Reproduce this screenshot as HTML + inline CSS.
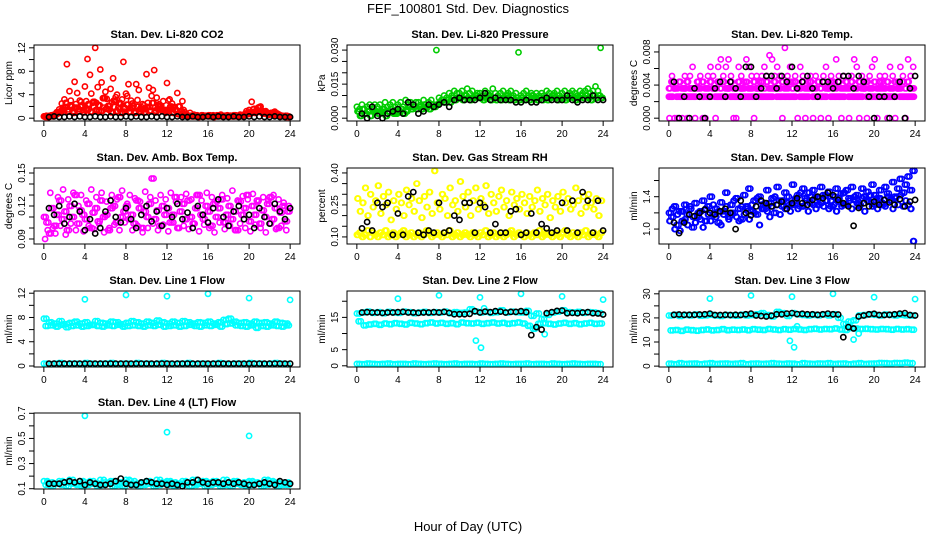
<!DOCTYPE html>
<html><head><meta charset="utf-8"><style>
html,body{margin:0;padding:0;background:#fff;}
svg{display:block;font-family:"Liberation Sans",sans-serif;}
</style></head><body>
<svg id="chart" width="936" height="540" viewBox="0 0 936 540" xmlns="http://www.w3.org/2000/svg">
<rect width="936" height="540" fill="#fff"/>
<text x="468" y="13" text-anchor="middle" font-size="13">FEF_100801  Std. Dev. Diagnostics</text>
<text x="468" y="531" text-anchor="middle" font-size="13">Hour of Day (UTC)</text>
</svg>
<script>
// ---- data ----
const xTicks=[0,4,8,12,16,20,24];
// Panel 1: CO2
const co2RedA=[0.3,0.4,0.2,0.5,0.6,1.0,1.5,2.5,3.2,9.2,4.6,2.0,6.2,4.3,3.0,2.2,5.4,10.1,7.4,2.6,12.0,5.3,8.3,3.4,4.5,2.1,5.0,6.8,3.6,1.8,2.4,9.6,4.2,5.8,3.0,2.1,5.8,4.8,1.9,2.2,7.5,5.2,3.8,8.2,3.5,2.4,1.6,1.2,6.0,3.2,2.5,1.9,4.3,2.0,2.9,1.0,0.5,0.9,0.4,0.3,0.4,0.3,0.5,0.4,0.4,0.3,0.5,0.3,0.4,0.6,0.3,0.4,0.3,0.4,0.5,0.3,0.4,0.5,0.6,1.2,1.4,2.8,1.6,1.1,1.9,1.3,0.8,0.9,0.7,0.6,1.1,0.8,0.5,0.4,0.3,0.3];
const co2RedB=[0.2,0.3,0.3,0.4,0.5,0.8,1.2,1.8,2.6,1.5,3.0,1.2,2.4,1.6,2.8,1.4,2.9,1.5,4.2,1.9,2.6,1.2,6.1,1.8,3.3,1.4,2.7,1.9,4.0,1.5,3.2,1.1,3.8,1.7,2.5,1.2,3.1,1.6,2.4,1.5,2.6,1.9,4.8,1.3,2.2,1.6,2.9,0.9,3.0,1.5,1.8,1.2,2.0,0.8,1.4,0.6,0.4,0.3,0.6,0.3,0.2,0.5,0.3,0.4,0.3,0.4,0.2,0.5,0.3,0.4,0.3,0.5,0.4,0.3,0.3,0.4,0.6,0.4,0.8,0.9,1.0,1.5,1.2,1.8,2.0,1.0,1.2,0.7,0.9,1.0,0.6,0.5,0.4,0.3,0.2,0.3];
const co2RedC=[0.3,0.2,0.4,0.3,0.6,0.9,1.0,1.4,1.9,1.1,2.2,0.9,1.8,1.2,2.0,1.0,1.5,2.4,1.1,2.8,1.4,2.2,1.2,3.4,1.6,2.1,1.0,3.0,1.2,2.6,0.9,1.7,2.3,1.1,1.8,0.9,2.0,1.2,1.5,1.0,1.9,1.3,2.6,1.0,1.6,2.1,1.2,1.4,1.2,2.0,0.9,1.4,0.7,1.2,0.5,0.6,0.3,0.4,0.3,0.5,0.3,0.4,0.3,0.4,0.5,0.3,0.4,0.3,0.5,0.3,0.4,0.3,0.4,0.3,0.5,0.4,0.3,0.5,0.6,0.7,0.8,1.0,0.9,1.3,1.1,0.8,1.0,0.6,0.7,0.8,0.5,0.6,0.4,0.3,0.4,0.2];
const co2Black=[0.2,0.3,0.2,0.2,0.3,0.2,0.3,0.2,0.2,0.3,0.2,0.2,0.3,0.2,0.2,0.3,0.2,0.3,0.2,0.2,0.3,0.2,0.3,0.2,0.2,0.3,0.2,0.2,0.3,0.2,0.2,0.3,0.2,0.3,0.2,0.2,0.3,0.2,0.2,0.3,0.2,0.3,0.2,0.2,0.3,0.2,0.2,0.2];
// Panel 2: pressure
const presA=[.005,.004,.006,.004,.005,.006,.004,.006,.005,.006,.004,.007,.005,.006,.007,.005,.006,.007,.005,.008,.006,.007,.005,.007,.007,.006,.008,.006,.007,.008,.006,.030,.009,.008,.010,.009,.011,.010,.012,.011,.011,.012,.010,.013,.011,.012,.010,.011,.011,.010,.012,.011,.010,.013,.011,.010,.011,.012,.010,.011,.012,.010,.011,.029,.010,.011,.012,.010,.011,.009,.011,.010,.011,.010,.012,.011,.010,.011,.012,.010,.011,.012,.010,.011,.012,.011,.010,.012,.011,.012,.013,.011,.012,.014,.012,.031];
const presB=[.003,.001,.004,.002,.003,.001,.004,.003,.002,.003,.004,.001,.003,.004,.002,.002,.003,.004,.002,.003,.005,.004,.005,.004,.005,.004,.006,.005,.004,.006,.005,.006,.007,.008,.007,.008,.007,.009,.008,.009,.009,.008,.010,.009,.008,.009,.010,.009,.009,.008,.009,.010,.008,.009,.008,.009,.008,.009,.010,.008,.009,.008,.009,.008,.009,.008,.009,.008,.010,.009,.008,.009,.008,.009,.008,.009,.010,.009,.008,.009,.009,.008,.009,.010,.009,.008,.009,.010,.009,.010,.009,.008,.010,.009,.010,.009];
const presBlack=[.002,.000,.005,.001,.000,.002,.003,.004,.002,.007,.006,.002,.003,.006,.005,.006,.007,.005,.008,.009,.008,.008,.008,.009,.011,.008,.009,.008,.008,.008,.007,.007,.008,.007,.007,.008,.009,.008,.008,.008,.010,.008,.007,.008,.008,.010,.008,.008];
// Panel 3: temperature
const tempA=[.0026,.0026,.0036,.0026,.0026,.0026,.0036,.0026,.0026,.0026,.0026,.0036,.0026,.0026,.0026,.0026,.0026,.0036,.0026,.0026,.0026,.0026,.0026,.0036,.0026,.0026,.0026,.0026,.0036,.0026,.0026,.0026,.0026,.0026,.0036,.0026,.0026,.0026,.0026,.0026,.0026,.0036,.0026,.0026,.0026,.0026,.0026,.0026,.0026,.0026,.0036,.0026,.0026,.0026,.0026,.0036,.0026,.0026,.0026,.0026,.0026,.0026,.0036,.0026,.0026,.0026,.0026,.0026,.0026,.0036,.0026,.0026,.0026,.0026,.0026,.0026,.0036,.0026,.0026,.0026,.0026,.0026,.0036,.0026,.0026,.0026,.0026,.0026,.0026,.0036,.0026,.0026,.0026,.0026,.0026,.0026];
const tempB=[.0036,.0044,.0036,.0036,.0044,.0036,.0036,.0044,.0036,.0036,.0036,.0044,.0036,.0044,.0036,.0036,.0044,.0036,.0036,.0044,.0036,.0044,.0036,.0036,.0044,.0036,.0036,.0044,.0036,.0036,.0044,.0036,.0036,.0044,.0036,.0036,.0044,.0036,.0044,.0036,.0036,.0044,.0036,.0036,.0044,.0036,.0036,.0044,.0036,.0044,.0036,.0036,.0044,.0036,.0036,.0044,.0036,.0036,.0044,.0036,.0044,.0036,.0036,.0044,.0036,.0036,.0044,.0036,.0036,.0044,.0036,.0044,.0036,.0036,.0044,.0036,.0036,.0044,.0036,.0036,.0044,.0036,.0044,.0036,.0036,.0044,.0036,.0036,.0044,.0036,.0036,.0044,.0036,.0044,.0036,.0036];
const tempC=[0,.0051,0,0,.0044,0,.0051,0,.0051,.0062,0,.0044,.0051,0,0,.0051,.0062,.0051,0,.0062,.0071,.0051,.0062,.0071,.0051,0,0,.0062,.0051,.0044,.0071,.0062,.0051,0,.0051,.0044,.0051,.0062,.0051,.0076,.0071,.0051,.0062,.0051,0,.0085,.0051,.0062,.0044,.0051,0,.0062,.0051,0,.0044,.0051,0,.0051,.0044,0,.0051,.0062,0,.0051,.0044,.0071,.0051,0,.0051,.0044,0,.0051,.0071,.0062,0,.0051,.0044,0,.0051,.0062,.0071,0,.0051,.0044,.0051,0,.0062,.0051,0,.0044,.0062,.0051,0,.0071,.0051,.0062];
const tempBlack=[.0044,0,.0026,0,.0036,.0026,0,.0026,.0036,.0044,.0026,.0044,.0036,.0026,.0062,.0062,.0026,.0036,.0051,.0051,.0036,.0051,.0044,.0062,.0036,.0044,.0051,.0036,.0026,.0044,.0044,.0036,.0044,.0051,.0051,.0036,.0051,.0044,.0026,0,.0026,.0026,0,.0026,.0044,0,.0036,.0051];
// Panel 4: ambient box temp
const ambA=[.110,.105,.095,.118,.102,.112,.125,.108,.115,.098,.120,.110,.130,.104,.116,.112,.108,.122,.100,.114,.118,.106,.125,.110,.112,.098,.118,.120,.105,.128,.110,.115,.120,.108,.112,.104,.125,.118,.100,.115,.110,.122,.145,.108,.116,.102,.120,.112,.118,.105,.112,.128,.100,.115,.122,.108,.125,.110,.104,.118,.130,.112,.108,.120,.115,.102,.122,.110,.118,.126,.105,.112,.120,.108,.115,.098,.124,.112,.118,.130,.106,.120,.112,.125,.104,.116,.110,.122,.128,.108,.118,.100,.114,.120,.106,.115];
const ambB=[.090,.098,.132,.100,.095,.128,.102,.135,.094,.126,.104,.132,.098,.120,.130,.097,.125,.102,.135,.099,.128,.104,.132,.096,.124,.100,.130,.103,.126,.098,.134,.105,.122,.130,.098,.127,.102,.124,.096,.133,.100,.128,.104,.125,.098,.130,.103,.126,.097,.132,.105,.124,.100,.128,.102,.131,.099,.126,.104,.130,.097,.125,.103,.132,.100,.128,.096,.124,.105,.130,.099,.127,.102,.134,.098,.125,.104,.129,.100,.126,.097,.131,.103,.124,.100,.128,.096,.125,.104,.130,.099,.126,.102,.123,.098,.120];
const ambBlack=[.118,.112,.120,.104,.110,.122,.115,.098,.108,.095,.100,.115,.125,.110,.105,.118,.108,.100,.112,.120,.106,.115,.102,.118,.110,.122,.108,.114,.100,.120,.112,.105,.118,.126,.110,.102,.115,.120,.108,.112,.100,.118,.110,.104,.122,.115,.108,.118];
// Panel 5: gas stream RH
const rhA=[.11,.12,.10,.11,.13,.10,.12,.11,.10,.12,.11,.13,.10,.11,.12,.10,.11,.12,.13,.10,.11,.12,.10,.11,.12,.10,.11,.13,.12,.10,.11,.12,.11,.10,.12,.11,.13,.10,.11,.12,.10,.11,.12,.11,.10,.12,.11,.10,.12,.11,.13,.10,.11,.12,.10,.11,.12,.10,.11,.12,.13,.10,.11,.12,.11,.10,.12,.11,.10,.12,.11,.13,.10,.11,.12,.11,.10,.12,.11,.10,.12,.13,.11,.10,.12,.11,.10,.12,.11,.13,.10,.11,.12,.11,.10,.12];
const rhB=[.28,.22,.26,.33,.20,.30,.24,.27,.34,.21,.29,.25,.31,.18,.27,.23,.30,.26,.20,.32,.25,.28,.22,.35,.27,.19,.29,.24,.31,.21,.41,.26,.23,.30,.28,.20,.33,.25,.27,.22,.36,.29,.24,.31,.20,.27,.33,.23,.28,.25,.34,.21,.30,.26,.22,.29,.32,.24,.27,.20,.31,.25,.28,.23,.30,.26,.21,.29,.24,.27,.32,.22,.28,.25,.30,.19,.27,.24,.29,.22,.31,.26,.28,.23,.25,.33,.27,.21,.29,.24,.30,.26,.23,.28,.20,.27];
const rhBlack=[.14,.17,.13,.26,.24,.26,.11,.21,.11,.29,.31,.12,.11,.13,.12,.26,.12,.13,.20,.18,.26,.26,.12,.26,.24,.12,.16,.12,.12,.22,.23,.11,.12,.21,.12,.16,.14,.12,.13,.26,.13,.27,.12,.31,.27,.12,.27,.13];
// Panel 6: sample flow
const flowA=[1.20,1.15,1.28,1.05,1.22,1.10,1.30,1.18,1.25,1.02,1.32,1.15,1.22,1.35,1.10,1.28,1.40,1.18,1.25,1.08,1.33,1.22,1.45,1.15,1.30,1.20,1.38,1.25,1.12,1.42,1.28,1.50,1.22,1.35,1.18,1.40,1.30,1.25,1.48,1.32,1.38,1.20,1.52,1.35,1.28,1.45,1.40,1.30,1.55,1.35,1.42,1.28,1.50,1.38,1.45,1.32,1.48,1.40,1.30,1.52,1.42,1.35,1.46,1.28,1.40,1.50,1.34,1.44,1.30,1.48,1.38,1.52,1.36,1.42,1.30,1.50,1.40,1.46,1.34,1.55,1.42,1.38,1.48,1.30,1.52,1.44,1.36,1.58,1.40,1.50,1.62,1.45,1.55,1.65,1.48,1.72];
const flowB=[1.10,1.25,1.00,1.18,0.98,1.22,1.12,1.05,1.28,1.15,1.08,1.20,1.12,1.02,1.25,1.18,1.10,1.30,1.15,1.22,1.05,1.18,1.28,1.12,1.20,1.35,1.15,1.10,1.28,1.18,1.25,1.12,1.30,1.20,1.38,1.05,1.25,1.32,1.22,1.15,1.28,1.40,1.30,1.18,1.35,1.25,1.32,1.22,1.30,1.38,1.25,1.45,1.28,1.35,1.22,1.40,1.30,1.25,1.38,1.32,1.28,1.42,1.25,1.35,1.30,1.22,1.38,1.28,1.45,1.30,1.35,1.25,1.40,1.32,1.28,1.38,1.22,1.35,1.42,1.28,1.30,1.25,1.38,1.32,1.28,1.40,1.35,1.25,1.38,1.30,1.42,1.28,1.35,1.30,1.25,0.85];
const flowBlack=[1.08,0.95,1.08,1.18,1.16,1.20,1.24,1.20,1.18,1.22,1.25,1.20,1.00,1.35,1.20,1.17,1.28,1.35,1.32,1.28,1.30,1.34,1.25,1.32,1.38,1.32,1.30,1.36,1.40,1.38,1.45,1.42,1.36,1.32,1.28,1.04,1.26,1.32,1.28,1.34,1.30,1.36,1.33,1.30,1.37,1.28,1.34,1.36];
// Panel 7: line 1 flow
const l1A=[7.8,7.2,7.0,7.4,6.9,7.1,7.3,7.0,7.2,6.8,7.4,7.1,7.0,7.3,7.2,6.9,7.1,7.4,7.2,7.0,7.3,7.1,7.5,7.2,7.0,7.3,7.1,7.4,7.2,7.0,7.2,7.1,7.3,7.0,7.2,7.6,7.8,7.3,7.1,7.2,7.0,7.3,7.1,7.2,7.0,7.3,7.1,7.0];
const l1B=[6.6,6.7,6.5,6.8,6.4,6.6,6.7,6.5,6.6,6.8,6.6,6.5,6.7,6.6,6.8,6.5,6.6,6.7,6.6,6.5,6.7,6.6,6.8,6.5,6.6,6.7,6.5,6.6,6.8,6.6,6.5,6.7,6.6,6.8,6.5,6.9,7.0,6.7,6.6,6.5,6.7,6.3,6.6,6.5,6.7,6.6,6.5,6.7];
const l1C=[0.4,0.3,0.4,0.5,0.3,0.4,0.4,0.3,0.5,0.4,0.3,0.4,0.4,0.5,0.3,0.4,0.4,0.3,0.5,0.4,0.4,0.3,0.4,0.5,0.4,0.3,0.4,0.4,0.5,0.3,0.4,0.4,0.3,0.4,0.5,0.4,0.3,0.4,0.4,0.3,0.5,0.4,0.4,0.3,0.4,0.5,0.4,0.3];
const l1OutX=[4,8,12,16,20,24];
const l1OutY=[11.0,11.7,11.5,11.9,11.2,10.9];
const l1Black=[0.4,0.4,0.4,0.4,0.4,0.4,0.4,0.4,0.4,0.4,0.4,0.4,0.4,0.4,0.4,0.4,0.4,0.4,0.4,0.4,0.4,0.4,0.4,0.4,0.4,0.4,0.4,0.4,0.4,0.4,0.4,0.4,0.4,0.4,0.4,0.4,0.4,0.4,0.4,0.4,0.4,0.4,0.4,0.4,0.4,0.4,0.4,0.4];
// Panel 8: line 2 flow
const l2A=[16.2,16.5,16.8,16.4,16.6,16.3,16.7,16.5,16.4,16.8,16.6,16.3,16.5,16.7,16.4,16.6,16.5,16.8,16.3,16.6,16.4,16.5,17.5,16.8,16.5,16.7,16.4,16.6,17.2,16.5,16.8,16.6,16.5,17.0,15.5,16.2,14.5,15.8,16.5,16.8,17.2,16.6,16.5,16.7,16.4,16.6,16.5,16.3];
const l2B=[13.8,12.5,12.8,13.0,12.7,13.1,12.9,13.2,13.0,12.8,13.3,13.1,12.9,13.2,13.4,13.1,13.3,13.0,13.2,12.9,13.4,13.2,13.1,13.3,13.0,13.2,13.4,13.1,13.3,13.0,13.2,13.4,13.1,12.4,11.5,13.0,13.2,13.0,12.8,13.1,13.3,13.0,13.2,12.9,13.1,13.3,13.0,13.1];
const l2C=[0.6,0.5,0.7,0.6,0.5,0.6,0.7,0.5,0.6,0.6,0.5,0.7,0.6,0.5,0.6,0.7,0.6,0.5,0.6,0.7,0.5,0.6,0.6,0.5,0.7,0.6,0.5,0.6,0.7,0.6,0.5,0.6,0.6,0.7,0.5,0.6,0.6,0.5,0.7,0.6,0.5,0.6,0.7,0.6,0.5,0.6,0.6,0.5];
const l2OutX=[4,8,12,16,20,24,11.6,12.1,18.3,12.4];
const l2OutY=[20.8,21.8,21.2,22.3,21.5,20.5,7.8,5.6,9.8,17.8];
const l2Black=[16.5,16.6,16.5,16.5,16.4,16.5,16.5,16.6,16.7,16.5,16.5,16.4,16.5,16.5,16.6,16.5,16.7,16.4,16.0,16.0,16.0,16.1,16.9,16.5,16.8,16.6,16.9,16.8,16.5,16.7,16.7,16.9,16.6,9.5,12.0,11.2,16.3,16.6,17.0,17.1,16.3,16.4,16.3,16.5,16.6,16.3,16.2,15.9];
// Panel 9: line 3 flow
const l3A=[21.0,21.3,20.8,21.2,21.0,21.4,20.9,21.1,21.3,21.0,20.8,21.2,21.1,20.9,21.3,21.0,21.2,21.5,22.0,21.2,20.6,22.5,22.0,20.8,22.0,21.5,21.2,21.0,21.3,21.1,21.4,21.0,21.5,20.0,17.5,18.5,19.0,21.0,21.2,21.5,21.3,21.0,21.4,21.2,21.0,21.3,21.1,21.0];
const l3B=[14.8,15.0,14.6,15.1,14.9,14.7,15.0,15.2,14.8,15.0,15.3,14.9,15.1,15.0,15.2,14.9,15.3,15.1,15.0,15.4,15.2,15.0,15.3,15.1,15.4,15.2,15.0,15.3,15.5,15.2,15.4,15.3,15.6,15.2,15.0,15.8,15.6,15.4,15.5,15.3,15.2,15.4,15.3,15.1,15.4,15.2,15.3,15.1];
const l3C=[1.0,0.8,1.2,0.9,1.0,1.1,0.8,1.0,1.2,0.9,1.0,1.1,0.9,1.0,1.2,0.8,1.0,1.1,0.9,1.0,1.2,1.0,0.9,1.1,1.0,0.8,1.2,1.0,0.9,1.1,1.0,1.2,0.9,1.0,1.1,0.8,1.0,1.2,0.9,1.0,1.1,1.3,1.2,1.1,1.3,1.2,1.4,1.2];
const l3OutX=[4,8,12,16,20,24,11.8,12.2,12.5,18.0,18.5];
const l3OutY=[28.0,29.3,28.8,30.0,28.6,27.8,10.5,7.8,16.5,11.0,13.5];
const l3Black=[21.3,21.4,21.3,21.3,21.3,21.4,21.5,21.8,21.2,21.2,21.3,21.2,21.3,21.2,21.5,21.8,21.0,20.8,20.6,20.9,21.5,21.5,21.8,22.0,21.6,21.7,21.5,21.5,21.3,21.5,21.8,21.5,21.4,12.0,16.2,15.6,20.6,21.0,21.5,21.7,21.2,21.2,21.3,21.5,21.8,22.0,21.2,21.0];
// Panel 10: line 4 (LT) flow
const l4A=[0.16,0.15,0.14,0.16,0.15,0.17,0.14,0.16,0.15,0.16,0.14,0.17,0.15,0.16,0.14,0.15,0.17,0.16,0.14,0.15,0.16,0.14,0.17,0.15,0.16,0.15,0.14,0.16,0.15,0.17,0.14,0.16,0.15,0.16,0.14,0.17,0.15,0.16,0.14,0.15,0.16,0.15,0.14,0.17,0.16,0.15,0.14,0.15];
const l4B=[0.13,0.12,0.14,0.13,0.12,0.14,0.13,0.12,0.13,0.14,0.12,0.13,0.14,0.12,0.13,0.12,0.14,0.13,0.12,0.13,0.14,0.12,0.13,0.14,0.13,0.12,0.14,0.13,0.12,0.13,0.14,0.12,0.13,0.14,0.12,0.13,0.12,0.14,0.13,0.12,0.13,0.14,0.12,0.13,0.14,0.12,0.13,0.13];
const l4OutX=[4,12,20];
const l4OutY=[0.68,0.55,0.52];
const l4Black=[0.14,0.14,0.14,0.15,0.16,0.15,0.16,0.13,0.15,0.14,0.13,0.13,0.14,0.16,0.18,0.14,0.13,0.13,0.15,0.16,0.15,0.14,0.14,0.13,0.14,0.13,0.12,0.15,0.15,0.17,0.15,0.14,0.15,0.15,0.14,0.15,0.14,0.15,0.14,0.13,0.13,0.14,0.15,0.14,0.13,0.16,0.15,0.14];

// ---- layout ----
const RED="#ff0000",GRN="#00cc00",MAG="#ff00ff",YEL="#ffff00",BLU="#0000ff",CYN="#00ffff",BLK="#000000";
function ser(color,vals,x0,step){return {color,vals,x0,step};}
function pts(color,xs,vals){return {color,vals,xs};}
const panels=[
 {name:"co2",title:"Stan. Dev. Li-820 CO2",ylab:"Licor ppm",yr:[0,12],ticks:[0,2,4,6,8,10,12],labels:["0","","4","","8","","12"],
  series:[ser(RED,co2RedA,0,0.25),ser(RED,co2RedB,0.125,0.25),ser(RED,co2RedC,0.06,0.25),ser(RED,co2RedC,0.19,0.25),ser(BLK,co2Black,0.5,0.5)]},
 {name:"pressure",title:"Stan. Dev. Li-820 Pressure",ylab:"kPa",yr:[0,0.031],ticks:[0,.005,.010,.015,.020,.025,.030],labels:["0.000","","","0.015","","","0.030"],
  series:[ser(GRN,presA,0,0.25),ser(GRN,presB,0.125,0.25),ser(GRN,presB,0.06,0.25),ser(GRN,presB,0.19,0.25),ser(BLK,presBlack,0.5,0.5)]},
 {name:"temp",title:"Stan. Dev. Li-820 Temp.",ylab:"degrees C",yr:[0,0.0085],ticks:[0,.002,.004,.006,.008],labels:["0.000","","0.004","","0.008"],
  series:[ser(MAG,tempA,0,0.25),ser(MAG,tempA,0.125,0.25),ser(MAG,tempB,0.125,0.25),ser(MAG,tempB,0.0,0.25),ser(MAG,tempC,0.06,0.25),ser(BLK,tempBlack,0.5,0.5)]},
 {name:"amb-box-temp",title:"Stan. Dev. Amb. Box Temp.",ylab:"degrees C",yr:[0.088,0.152],ticks:[.09,.10,.11,.12,.13,.14,.15],labels:["0.09","","","0.12","","","0.15"],
  series:[ser(MAG,ambA,0,0.25),ser(MAG,ambB,0.125,0.25),ser(MAG,ambA,0.19,0.25),ser(BLK,ambBlack,0.5,0.5)]},
 {name:"gas-rh",title:"Stan. Dev. Gas Stream RH",ylab:"percent",yr:[0.08,0.41],ticks:[.10,.15,.20,.25,.30,.35,.40],labels:["0.10","","","0.25","","","0.40"],
  series:[ser(YEL,rhA,0,0.25),ser(YEL,rhA,0.125,0.25),ser(YEL,rhB,0.125,0.25),ser(YEL,rhB,0.06,0.25),ser(BLK,rhBlack,0.5,0.5)]},
 {name:"sample-flow",title:"Stan. Dev. Sample Flow",ylab:"ml/min",yr:[0.85,1.72],ticks:[1.0,1.2,1.4,1.6],labels:["1.0","","1.4",""],
  series:[ser(BLU,flowA,0,0.25),ser(BLU,flowB,0.125,0.25),ser(BLU,flowB,0.06,0.25),ser(BLU,flowA,0.19,0.25),ser(BLK,flowBlack,0.5,0.5)]},
 {name:"line1-flow",title:"Stan. Dev. Line 1 Flow",ylab:"ml/min",yr:[0.3,11.9],ticks:[0,2,4,6,8,10,12],labels:["0","","4","","8","","12"],
  series:[ser(CYN,l1A,0,0.5),ser(CYN,l1A,0.25,0.5),ser(CYN,l1B,0.17,0.5),ser(CYN,l1C,0,0.5),ser(CYN,l1C,0.25,0.5),ser(CYN,l1B,0.38,0.5),pts(CYN,l1OutX,l1OutY),ser(BLK,l1Black,0.5,0.5)]},
 {name:"line2-flow",title:"Stan. Dev. Line 2 Flow",ylab:"ml/min",yr:[0.5,22.3],ticks:[0,5,10,15,20],labels:["0","5","","15",""],
  series:[ser(CYN,l2A,0,0.5),ser(CYN,l2A,0.25,0.5),ser(CYN,l2B,0.17,0.5),ser(CYN,l2C,0,0.5),ser(CYN,l2C,0.25,0.5),ser(CYN,l2B,0.38,0.5),pts(CYN,l2OutX,l2OutY),ser(BLK,l2Black,0.5,0.5)]},
 {name:"line3-flow",title:"Stan. Dev. Line 3 Flow",ylab:"ml/min",yr:[0.8,30],ticks:[0,5,10,15,20,25,30],labels:["0","","10","","20","","30"],
  series:[ser(CYN,l3A,0,0.5),ser(CYN,l3A,0.25,0.5),ser(CYN,l3B,0.17,0.5),ser(CYN,l3C,0,0.5),ser(CYN,l3C,0.25,0.5),ser(CYN,l3B,0.38,0.5),pts(CYN,l3OutX,l3OutY),ser(BLK,l3Black,0.5,0.5)]},
 {name:"line4-flow",title:"Stan. Dev. Line 4 (LT) Flow",ylab:"ml/min",yr:[0.12,0.68],ticks:[.1,.2,.3,.4,.5,.6,.7],labels:["0.1","","0.3","","0.5","","0.7"],
  series:[ser(CYN,l4A,0,0.5),ser(CYN,l4B,0.17,0.5),ser(CYN,l4A,0.34,0.5),ser(CYN,l4B,0.42,0.5),pts(CYN,l4OutX,l4OutY),ser(BLK,l4Black,0.5,0.5)]}
];
const colL=[34,347,659], rowT=[45,168,291,413], PW=266, PH=76;
const NS="http://www.w3.org/2000/svg";
const svg=document.getElementById('chart');
function mk(tag,attrs,parent){const e=document.createElementNS(NS,tag);for(const k in attrs)e.setAttribute(k,attrs[k]);parent.appendChild(e);return e;}

panels.forEach((p,i)=>{
  const L=colL[i%3], T=rowT[Math.floor(i/3)];
  const g=mk('g',{},svg);
  
  
  const xr=[0-0.96,24+0.96];
  const d=p.yr[1]-p.yr[0];
  const yl=[p.yr[0]-0.04*d,p.yr[1]+0.04*d];
  const X=v=>L+(v-xr[0])/(xr[1]-xr[0])*PW;
  const Y=v=>T+PH-(v-yl[0])/(yl[1]-yl[0])*PH;
  const pg=mk('g',{fill:'none','stroke-width':1.6},g);
  
  
  p.series.forEach(s=>{
    s.vals.forEach((v,j)=>{
      const xv=s.xs?s.xs[j]:s.x0+j*s.step;
      const c=mk('circle',{cx:X(xv).toFixed(1),cy:Y(v).toFixed(1),r:2.6,stroke:s.color},pg);
      
      
    });
  });
  const box=mk('rect',{x:L,y:T,width:PW,height:PH,fill:'none',stroke:'#000','stroke-width':1},g);
  
  
  const t=mk('text',{x:L+PW/2,y:T-7,'text-anchor':'middle','font-size':11,'font-weight':'bold'},g);
  t.textContent=p.title;
  
  
  xTicks.forEach(v=>{
    mk('line',{x1:X(v),x2:X(v),y1:T+PH,y2:T+PH+5,stroke:'#000'},g);
    const tl=mk('text',{x:X(v),y:T+PH+16,'text-anchor':'middle','font-size':10},g);
    tl.textContent=String(v);
    
    
  });
  p.ticks.forEach((v,j)=>{
    mk('line',{x1:L-5,x2:L,y1:Y(v),y2:Y(v),stroke:'#000'},g);
    if(p.labels[j]){
      const tl=mk('text',{x:0,y:0,'text-anchor':'middle','font-size':10,transform:`translate(${L-9},${Y(v)}) rotate(-90)`},g);
      tl.textContent=p.labels[j];
      
      
    }
  });
  const yt=mk('text',{x:0,y:0,'text-anchor':'middle','font-size':10,transform:`translate(${L-22},${T+PH/2}) rotate(-90)`},g);
  yt.textContent=p.ylab;
  
  
});
</script>
</body></html>
